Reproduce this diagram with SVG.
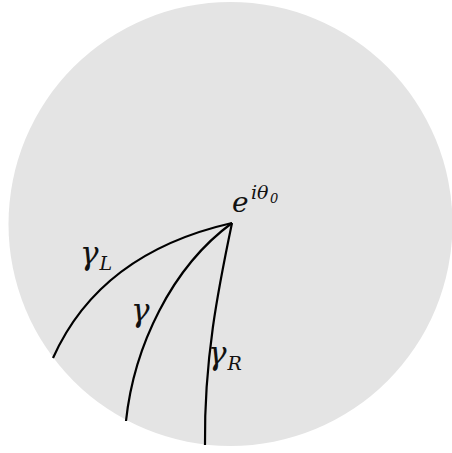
<svg xmlns="http://www.w3.org/2000/svg" width="452" height="453" viewBox="0 0 452 453">
<style>
.curve{fill:none;stroke:#000;stroke-width:2.2;stroke-linecap:butt;stroke-linejoin:miter}
.m{font-family:'DejaVu Serif','Liberation Serif',serif;font-style:italic;fill:#111}
</style>
<rect width="452" height="453" fill="#fff"/>
<g id="disk"><circle cx="230.5" cy="224" r="222" fill="#e4e4e4"/></g>
<g id="connectors">
<path id="gammaL" class="curve" d="M232,223 Q100,253 53,358"/>
<path id="gamma" class="curve" d="M232,223 C171.5,267.3 133.9,346.5 126,421"/>
<path id="gammaR" class="curve" d="M232,223 C218,290 204,360 205,445"/>
</g>
<g id="point-label">
<text class="m" x="232" y="212" font-size="28">e</text>
<text class="m" x="251" y="199" font-size="19">iθ</text>
<text class="m" x="270" y="203" font-size="13">0</text>
</g>
<g id="label-gammaL">
<text class="m" x="80" y="264"><tspan font-size="31">γ</tspan><tspan font-size="19" dy="6" dx="1">L</tspan></text>
</g>
<g id="label-gamma">
<text class="m" x="131" y="321" font-size="31">γ</text>
</g>
<g id="label-gammaR">
<text class="m" x="208" y="364"><tspan font-size="31">γ</tspan><tspan font-size="19" dy="6" dx="1">R</tspan></text>
</g>
</svg>
